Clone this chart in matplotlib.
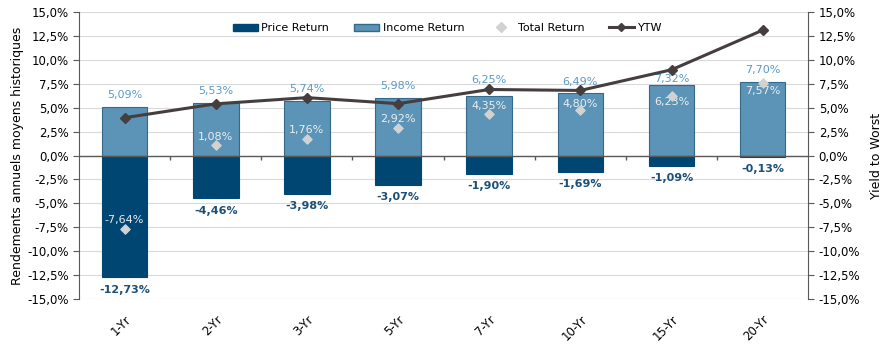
import numpy as np
import matplotlib
matplotlib.use('Agg')
import matplotlib.pyplot as plt
from matplotlib.lines import Line2D
from matplotlib.patches import Patch
from matplotlib.ticker import FuncFormatter, MultipleLocator

plt.rcParams['font.family'] = ['DejaVu Sans']

# 数据
categories = ['1-Yr', '2-Yr', '3-Yr', '5-Yr', '7-Yr', '10-Yr', '15-Yr', '20-Yr']
income_return = [5.09, 5.53, 5.74, 5.98, 6.25, 6.49, 7.32, 7.70]
price_return = [-12.73, -4.46, -3.98, -3.07, -1.90, -1.69, -1.09, -0.13]
total_return = [-7.64, 1.08, 1.76, 2.92, 4.35, 4.80, 6.23, 7.57]
ytw = [3.95, 5.40, 6.05, 5.42, 6.90, 6.80, 8.96, 13.10]

# 颜色
C_INCOME = '#5B94B6'
C_INCOME_EDGE = '#35698A'
C_PRICE = '#004673'
C_TOTAL = '#D2D2D2'
C_YTW = '#463E3E'
C_GRID = '#DADADA'
C_AXIS = '#595959'


def pct(v, pos=None):
    return f'{v:.1f}%'.replace('.', ',')


def lab(v):
    return f'{v:.2f}%'.replace('.', ',')


fig = plt.figure(figsize=(8.92, 3.60), dpi=100)
ax = fig.add_axes([0.0886, 0.1694, 0.8175, 0.7973])
x = np.arange(len(categories))
w = 0.5

ax.bar(x, income_return, w, color=C_INCOME, edgecolor=C_INCOME_EDGE, linewidth=0.8, zorder=2)
ax.bar(x, price_return, w, color=C_PRICE, edgecolor=C_PRICE, linewidth=0.8, zorder=2)
ax.scatter(x, total_return, marker='D', s=22, color=C_TOTAL, zorder=4)

ax.set_xlim(-0.5, len(categories) - 0.5)
ax.set_ylim(-15, 15)
ax.yaxis.set_major_locator(MultipleLocator(2.5))
ax.yaxis.set_major_formatter(FuncFormatter(pct))
ax.grid(True, axis='y', color=C_GRID, linewidth=0.8, zorder=0)
ax.set_axisbelow(True)

for s in ['top', 'bottom', 'right']:
    ax.spines[s].set_visible(False)
ax.spines['left'].set_color(C_AXIS)
ax.tick_params(axis='y', colors='black', labelsize=8.5, length=4, color=C_AXIS)
ax.set_xticks(x)
ax.set_xticklabels(categories, rotation=45, fontsize=8.5, ha='right', rotation_mode='anchor')
ax.tick_params(axis='x', length=0, pad=10)

# 零线和分隔刻度
ax.axhline(0, color=C_AXIS, linewidth=1.0, zorder=3)
ax.vlines(x[:-1] + 0.5, -0.45, 0, color=C_AXIS, linewidth=1.0, zorder=3)

ax.set_ylabel('Rendements annuels moyens historiques', fontsize=9, labelpad=2)

# 标签
inc_offsets = [8.5, 8.5, 8.5, 8.5, 11, 8.5, 5, 8.5]
tr_offsets = [6, 6, 6, 6, 6, 4, -4.5, -6]
for i in range(len(categories)):
    ax.annotate(lab(income_return[i]), (x[i], income_return[i]), xytext=(0, inc_offsets[i]),
                textcoords='offset points', ha='center', va='center',
                fontsize=8, color='#5B9BC4')
    ax.annotate(lab(price_return[i]), (x[i], price_return[i]), xytext=(0, -9),
                textcoords='offset points', ha='center', va='center',
                fontsize=8, color='#1B4F78', fontweight='semibold')
    ax.annotate(lab(total_return[i]), (x[i], total_return[i]), xytext=(0, tr_offsets[i]),
                textcoords='offset points', ha='center', va='center',
                fontsize=8, color='#EDEDED')

# 第二坐标轴
ax2 = ax.twinx()
ax2.set_ylim(-15, 15)
ax2.yaxis.set_major_locator(MultipleLocator(2.5))
ax2.yaxis.set_major_formatter(FuncFormatter(pct))
for s in ['top', 'bottom', 'left']:
    ax2.spines[s].set_visible(False)
ax2.spines['right'].set_color(C_AXIS)
ax2.tick_params(axis='y', labelsize=8.5, length=4, color=C_AXIS)
ax2.plot(x, ytw, color=C_YTW, linewidth=2.2, marker='D', markersize=5, zorder=5)
ax2.set_ylabel('Yield to Worst', fontsize=9, labelpad=7)

legend_elements = [
    Patch(facecolor=C_PRICE, edgecolor=C_PRICE, label='Price Return'),
    Patch(facecolor=C_INCOME, edgecolor=C_INCOME_EDGE, label='Income Return'),
    Line2D([0], [0], marker='D', color='none', markerfacecolor=C_TOTAL,
           markeredgecolor=C_TOTAL, markersize=5, label='Total Return'),
    Line2D([0], [0], color=C_YTW, linewidth=2.2, marker='D', markersize=4, label='YTW'),
]
ax2.legend(handles=legend_elements, loc='center', bbox_to_anchor=(0.505, 0.944), ncol=4,
           frameon=False, fontsize=8, handlelength=2.3, handleheight=0.6,
           columnspacing=2.2, handletextpad=0.3)

fig.savefig('out.png', dpi=100)
